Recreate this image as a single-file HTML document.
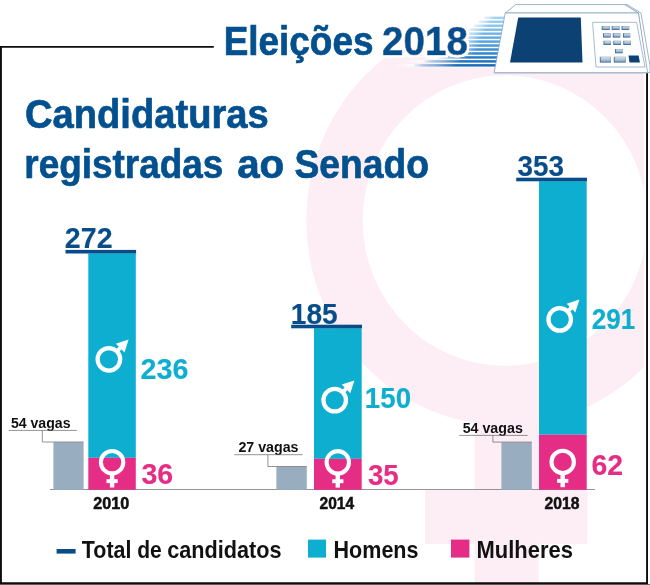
<!DOCTYPE html>
<html lang="pt-BR"><head><meta charset="utf-8"><title>Eleições 2018 - Candidaturas registradas ao Senado</title>
<style>
html,body{margin:0;padding:0;background:#fff;}
svg{display:block;font-family:"Liberation Sans",sans-serif;font-weight:bold;}
</style></head><body>
<svg width="650" height="585" viewBox="0 0 650 585">
<defs>
<clipPath id="frame"><rect x="0" y="0" width="644.3" height="585"/></clipPath>
<linearGradient id="kg" x1="0" y1="0" x2="0" y2="1"><stop offset="0" stop-color="#dbe5ee"/><stop offset="1" stop-color="#86a3c2"/></linearGradient>
<linearGradient id="sp0" x1="0" y1="0" x2="1" y2="0"><stop offset="0" stop-color="#fff" stop-opacity="0"/><stop offset="0.2" stop-color="#fff" stop-opacity="0.9"/><stop offset="0.4" stop-color="#a3d2f0" stop-opacity="0.5"/><stop offset="0.62" stop-color="#a3d2f0" stop-opacity="1"/><stop offset="1" stop-color="#a3d2f0"/></linearGradient>
<linearGradient id="sp1" x1="0" y1="0" x2="1" y2="0"><stop offset="0" stop-color="#fff" stop-opacity="0"/><stop offset="0.2" stop-color="#fff" stop-opacity="0.9"/><stop offset="0.4" stop-color="#98ccee" stop-opacity="0.5"/><stop offset="0.62" stop-color="#98ccee" stop-opacity="1"/><stop offset="1" stop-color="#98ccee"/></linearGradient>
<linearGradient id="sp2" x1="0" y1="0" x2="1" y2="0"><stop offset="0" stop-color="#fff" stop-opacity="0"/><stop offset="0.2" stop-color="#fff" stop-opacity="0.9"/><stop offset="0.4" stop-color="#8cc5ec" stop-opacity="0.5"/><stop offset="0.62" stop-color="#8cc5ec" stop-opacity="1"/><stop offset="1" stop-color="#8cc5ec"/></linearGradient>
<linearGradient id="sp3" x1="0" y1="0" x2="1" y2="0"><stop offset="0" stop-color="#fff" stop-opacity="0"/><stop offset="0.2" stop-color="#fff" stop-opacity="0.9"/><stop offset="0.4" stop-color="#7fbde9" stop-opacity="0.5"/><stop offset="0.62" stop-color="#7fbde9" stop-opacity="1"/><stop offset="1" stop-color="#7fbde9"/></linearGradient>
<linearGradient id="sp4" x1="0" y1="0" x2="1" y2="0"><stop offset="0" stop-color="#fff" stop-opacity="0"/><stop offset="0.2" stop-color="#fff" stop-opacity="0.9"/><stop offset="0.4" stop-color="#71b5e6" stop-opacity="0.5"/><stop offset="0.62" stop-color="#71b5e6" stop-opacity="1"/><stop offset="1" stop-color="#71b5e6"/></linearGradient>
<linearGradient id="sp5" x1="0" y1="0" x2="1" y2="0"><stop offset="0" stop-color="#fff" stop-opacity="0"/><stop offset="0.2" stop-color="#fff" stop-opacity="0.9"/><stop offset="0.4" stop-color="#63ace2" stop-opacity="0.5"/><stop offset="0.62" stop-color="#63ace2" stop-opacity="1"/><stop offset="1" stop-color="#63ace2"/></linearGradient>
<linearGradient id="sp6" x1="0" y1="0" x2="1" y2="0"><stop offset="0" stop-color="#fff" stop-opacity="0"/><stop offset="0.2" stop-color="#fff" stop-opacity="0.9"/><stop offset="0.4" stop-color="#55a3de" stop-opacity="0.5"/><stop offset="0.62" stop-color="#55a3de" stop-opacity="1"/><stop offset="1" stop-color="#55a3de"/></linearGradient>
<linearGradient id="sp7" x1="0" y1="0" x2="1" y2="0"><stop offset="0" stop-color="#fff" stop-opacity="0"/><stop offset="0.2" stop-color="#fff" stop-opacity="0.9"/><stop offset="0.4" stop-color="#479ad9" stop-opacity="0.5"/><stop offset="0.62" stop-color="#479ad9" stop-opacity="1"/><stop offset="1" stop-color="#479ad9"/></linearGradient>
<linearGradient id="sp8" x1="0" y1="0" x2="1" y2="0"><stop offset="0" stop-color="#fff" stop-opacity="0"/><stop offset="0.2" stop-color="#fff" stop-opacity="0.9"/><stop offset="0.4" stop-color="#3a90d3" stop-opacity="0.5"/><stop offset="0.62" stop-color="#3a90d3" stop-opacity="1"/><stop offset="1" stop-color="#3a90d3"/></linearGradient>
<linearGradient id="sp9" x1="0" y1="0" x2="1" y2="0"><stop offset="0" stop-color="#fff" stop-opacity="0"/><stop offset="0.2" stop-color="#fff" stop-opacity="0.9"/><stop offset="0.4" stop-color="#2f86cc" stop-opacity="0.5"/><stop offset="0.62" stop-color="#2f86cc" stop-opacity="1"/><stop offset="1" stop-color="#2f86cc"/></linearGradient>
<linearGradient id="sp10" x1="0" y1="0" x2="1" y2="0"><stop offset="0" stop-color="#fff" stop-opacity="0"/><stop offset="0.2" stop-color="#fff" stop-opacity="0.9"/><stop offset="0.4" stop-color="#277cc5" stop-opacity="0.5"/><stop offset="0.62" stop-color="#277cc5" stop-opacity="1"/><stop offset="1" stop-color="#277cc5"/></linearGradient>
<linearGradient id="sp11" x1="0" y1="0" x2="1" y2="0"><stop offset="0" stop-color="#fff" stop-opacity="0"/><stop offset="0.2" stop-color="#fff" stop-opacity="0.9"/><stop offset="0.4" stop-color="#2073be" stop-opacity="0.5"/><stop offset="0.62" stop-color="#2073be" stop-opacity="1"/><stop offset="1" stop-color="#2073be"/></linearGradient>
<linearGradient id="sp12" x1="0" y1="0" x2="1" y2="0"><stop offset="0" stop-color="#fff" stop-opacity="0"/><stop offset="0.2" stop-color="#fff" stop-opacity="0.9"/><stop offset="0.4" stop-color="#1b6bb7" stop-opacity="0.5"/><stop offset="0.62" stop-color="#1b6bb7" stop-opacity="1"/><stop offset="1" stop-color="#1b6bb7"/></linearGradient>
<filter id="halo" x="-10%" y="-20%" width="120%" height="140%"><feMorphology in="SourceAlpha" operator="dilate" radius="1.6" result="d"/><feGaussianBlur in="d" stdDeviation="0.6" result="b"/><feComponentTransfer in="b" result="t"><feFuncA type="linear" slope="3" intercept="0"/></feComponentTransfer><feFlood flood-color="#fff"/><feComposite in2="t" operator="in" result="h"/><feMerge><feMergeNode in="h"/><feMergeNode in="SourceGraphic"/></feMerge></filter>
<linearGradient id="spbg" x1="0" y1="0" x2="1" y2="0"><stop offset="0" stop-color="#fff" stop-opacity="0"/><stop offset="0.5" stop-color="#fff" stop-opacity="0.9"/><stop offset="1" stop-color="#fff"/></linearGradient>
</defs>
<g clip-path="url(#frame)">
<path fill-rule="evenodd" fill="#fdedf4" d="M306.3 220.7 a198.7 204.5 0 1 0 397.4 0 a198.7 204.5 0 1 0 -397.4 0 Z M362.7 220.6 a142.3 145.3 0 1 0 284.6 0 a142.3 145.3 0 1 0 -284.6 0 Z"/>
<rect x="474.6" y="400" width="64" height="185" fill="#fdedf4"/>
<rect x="425" y="489.8" width="162.5" height="54" fill="#fdedf4"/>
</g>
<rect x="0" y="584.1" width="650" height="0.9" fill="#666"/>
<path d="M213.8 46.9 H0.95 V583.25 H647.05 V72.5" fill="none" stroke="#0d0d0d" stroke-width="1.9"/>
<path d="M400 0 H520 L506 13 L497.5 56.5 H400 Z" fill="#fff"/>
<path d="M486 16.6 H504.6 L495.4 67.4 H412 Z" fill="url(#spbg)"/>
<rect x="478.0" y="16.60" width="26.4" height="2.45" fill="url(#sp0)"/>
<rect x="471.0" y="20.56" width="32.7" height="2.45" fill="url(#sp1)"/>
<rect x="465.0" y="24.52" width="38.1" height="2.45" fill="url(#sp2)"/>
<rect x="459.0" y="28.48" width="43.4" height="2.45" fill="url(#sp3)"/>
<rect x="454.0" y="32.44" width="47.7" height="2.45" fill="url(#sp4)"/>
<rect x="450.0" y="36.40" width="51.0" height="2.45" fill="url(#sp5)"/>
<rect x="447.0" y="40.36" width="53.4" height="2.45" fill="url(#sp6)"/>
<rect x="445.0" y="44.32" width="54.7" height="2.45" fill="url(#sp7)"/>
<rect x="442.0" y="48.28" width="57.0" height="2.45" fill="url(#sp8)"/>
<rect x="435.0" y="52.24" width="63.3" height="2.45" fill="url(#sp9)"/>
<rect x="421.0" y="56.20" width="76.7" height="2.45" fill="url(#sp10)"/>
<rect x="404.0" y="60.16" width="93.0" height="2.45" fill="url(#sp11)"/>
<rect x="392.0" y="64.12" width="104.3" height="2.45" fill="url(#sp12)"/>
<text transform="translate(223.66 55.15) scale(0.9070 1)" font-size="40.70" fill="#03508f" stroke="#03508f" stroke-width="0.7" stroke-linejoin="round" >Eleições</text>
<text transform="translate(382.00 55.15) scale(0.9659 1)" font-size="39.97" fill="#03508f" stroke="#03508f" stroke-width="0.7" stroke-linejoin="round" filter="url(#halo)">2018</text>
<text transform="translate(24.97 127.85) scale(0.9375 1)" font-size="40.70" fill="#03508f" stroke="#03508f" stroke-width="0.7" stroke-linejoin="round" >Candidaturas</text>
<text transform="translate(24.35 178.35) scale(0.9071 1)" font-size="40.70" fill="#03508f" stroke="#03508f" stroke-width="0.7" stroke-linejoin="round" >registradas</text>
<text transform="translate(237.14 178.35) scale(0.9918 1)" font-size="40.70" fill="#03508f" stroke="#03508f" stroke-width="0.7" stroke-linejoin="round" >ao</text>
<text transform="translate(294.53 178.35) scale(0.9142 1)" font-size="40.70" fill="#03508f" stroke="#03508f" stroke-width="0.7" stroke-linejoin="round" >Senado</text>
<g stroke="#7f9dbd" stroke-width="0.75" fill="#fff" stroke-linejoin="round">
<path d="M638.4 13 L624.7 4.55 L627 4.55 L641 13 L650 66 L650 72.6 L646.8 72.6 Z"/>
<path d="M515.8 4.55 H624.7 L638.4 13 H505.2 Z"/>
<path d="M505.2 13 H638.4 L647.6 72.6 H494.2 Z"/>
<path d="M592.6 22.3 H636.6 L645 67 H596 Z" stroke-width="0.7"/>
</g>
<path d="M494.6 72.7 H647.4" stroke="#a9bbd0" stroke-width="1.4" fill="none"/>
<path d="M518.2 17.6 H580.8 L582.5 62.4 H510 Z" fill="#0c4273"/>
<rect x="601.7" y="26.0" width="8.0" height="4.0" fill="#446f9d"/>
<rect x="602.6" y="26.3" width="6.9" height="2.8" fill="url(#kg)"/>
<rect x="611.7" y="26.0" width="7.8" height="4.0" fill="#446f9d"/>
<rect x="612.6" y="26.3" width="6.7" height="2.8" fill="url(#kg)"/>
<rect x="621.6" y="26.0" width="7.6" height="4.0" fill="#446f9d"/>
<rect x="622.5" y="26.3" width="6.5" height="2.8" fill="url(#kg)"/>
<rect x="603.0" y="33.2" width="7.6" height="4.4" fill="#446f9d"/>
<rect x="603.9" y="33.5" width="6.5" height="3.2" fill="url(#kg)"/>
<rect x="612.8" y="33.2" width="7.5" height="4.4" fill="#446f9d"/>
<rect x="613.7" y="33.5" width="6.4" height="3.2" fill="url(#kg)"/>
<rect x="623.0" y="33.2" width="7.2" height="4.4" fill="#446f9d"/>
<rect x="623.9" y="33.5" width="6.1" height="3.2" fill="url(#kg)"/>
<rect x="603.5" y="40.8" width="7.5" height="4.2" fill="#446f9d"/>
<rect x="604.4" y="41.1" width="6.4" height="3.0" fill="url(#kg)"/>
<rect x="613.3" y="40.8" width="7.6" height="4.2" fill="#446f9d"/>
<rect x="614.2" y="41.1" width="6.5" height="3.0" fill="url(#kg)"/>
<rect x="623.3" y="40.8" width="7.6" height="4.2" fill="#446f9d"/>
<rect x="624.2" y="41.1" width="6.5" height="3.0" fill="url(#kg)"/>
<rect x="615.0" y="49.0" width="7.6" height="4.3" fill="#446f9d"/>
<rect x="615.9" y="49.3" width="6.5" height="3.1" fill="url(#kg)"/>
<rect x="599.8" y="56.8" width="11.2" height="5.8" fill="#446f9d"/>
<rect x="600.7" y="57.1" width="10.1" height="4.6" fill="url(#kg)"/>
<rect x="613.8" y="56.8" width="12.0" height="5.8" fill="#446f9d"/>
<rect x="614.7" y="57.1" width="10.9" height="4.6" fill="url(#kg)"/>
<path d="M628.5 55.4 H638.6 L639.9 62.6 H629.5 Z" fill="#0c4273"/>
<rect x="50" y="489" width="545" height="0.9" fill="#8a8a8a"/>
<rect x="53.4" y="442.2" width="30.2" height="47.6" fill="#98aec0"/>
<rect x="88.3" y="253.4" width="47.5" height="204.4" fill="#0daed0"/>
<rect x="88.3" y="457.8" width="47.5" height="32.0" fill="#e62d86"/>
<rect x="65.5" y="249.9" width="70.6" height="3.6" fill="#084d89"/>
<text transform="translate(64.86 247.94) scale(0.9900 1)" font-size="28.91" fill="#084d89" stroke="#084d89" stroke-width="0.12" stroke-linejoin="round" >272</text>
<text transform="translate(140.55 378.74) scale(0.9934 1)" font-size="28.91" fill="#0daed0" stroke="#0daed0" stroke-width="0.12" stroke-linejoin="round" >236</text>
<text transform="translate(141.42 483.74) scale(0.9885 1)" font-size="28.91" fill="#e62d86" stroke="#e62d86" stroke-width="0.12" stroke-linejoin="round" >36</text>
<text transform="translate(10.88 427.70) scale(0.9482 1)" font-size="14.90" fill="#111" >54 vagas</text>
<path d="M8.7 430.4 H77 M42.3 430.4 V442.0 H83.6" fill="none" stroke="#666" stroke-width="0.7"/>
<text transform="translate(93.18 508.65) scale(0.9836 1)" font-size="16.48" fill="#111" stroke="#111" stroke-width="0.5" stroke-linejoin="round" >2010</text>
<g transform="translate(108.9 359.3)"><circle r="11.25" fill="none" stroke="#fff" stroke-width="4.3"/><path d="M7.6 -7.6 L13 -13" stroke="#fff" stroke-width="3.8" fill="none"/><path d="M19.7 -19.8 L7 -15.6 L15.6 -6.9 Z" fill="#fff"/></g>
<g transform="translate(112.1 462.2)"><circle r="11.2" fill="none" stroke="#fff" stroke-width="4.1"/><rect x="-2.2" y="12" width="4.4" height="13.3" fill="#fff"/><rect x="-5.6" y="17" width="11.2" height="3.9" fill="#fff"/></g>
<rect x="276.4" y="466.7" width="30.4" height="23.1" fill="#98aec0"/>
<rect x="314" y="328.2" width="47.7" height="130.6" fill="#0daed0"/>
<rect x="314" y="458.8" width="47.7" height="31.0" fill="#e62d86"/>
<rect x="291.2" y="324.7" width="70.8" height="3.6" fill="#084d89"/>
<text transform="translate(290.80 323.74) scale(0.9731 1)" font-size="28.91" fill="#084d89" stroke="#084d89" stroke-width="0.12" stroke-linejoin="round" >185</text>
<text transform="translate(364.83 407.94) scale(0.9588 1)" font-size="28.91" fill="#0daed0" stroke="#0daed0" stroke-width="0.12" stroke-linejoin="round" >150</text>
<text transform="translate(367.94 484.94) scale(0.9587 1)" font-size="28.91" fill="#e62d86" stroke="#e62d86" stroke-width="0.12" stroke-linejoin="round" >35</text>
<text transform="translate(238.40 451.70) scale(0.9558 1)" font-size="14.90" fill="#111" >27 vagas</text>
<path d="M234.3 454.7 H302.6 M267.9 454.7 V466.5 H306.8" fill="none" stroke="#666" stroke-width="0.7"/>
<text transform="translate(319.51 508.65) scale(0.9428 1)" font-size="16.48" fill="#111" stroke="#111" stroke-width="0.5" stroke-linejoin="round" >2014</text>
<g transform="translate(334.7 400.2)"><circle r="11.25" fill="none" stroke="#fff" stroke-width="4.3"/><path d="M7.6 -7.6 L13 -13" stroke="#fff" stroke-width="3.8" fill="none"/><path d="M19.7 -19.8 L7 -15.6 L15.6 -6.9 Z" fill="#fff"/></g>
<g transform="translate(337.8 462.3)"><circle r="11.2" fill="none" stroke="#fff" stroke-width="4.1"/><rect x="-2.2" y="12" width="4.4" height="13.3" fill="#fff"/><rect x="-5.6" y="17" width="11.2" height="3.9" fill="#fff"/></g>
<rect x="501.4" y="442.3" width="30.4" height="47.5" fill="#98aec0"/>
<rect x="539" y="181.2" width="47.7" height="253.5" fill="#0daed0"/>
<rect x="539" y="434.7" width="47.7" height="55.1" fill="#e62d86"/>
<rect x="516.2" y="177.7" width="70.8" height="3.6" fill="#084d89"/>
<text transform="translate(517.43 175.94) scale(0.9642 1)" font-size="28.91" fill="#084d89" stroke="#084d89" stroke-width="0.12" stroke-linejoin="round" >353</text>
<text transform="translate(591.65 328.54) scale(0.9025 1)" font-size="28.91" fill="#0daed0" stroke="#0daed0" stroke-width="0.12" stroke-linejoin="round" >291</text>
<text transform="translate(591.49 474.54) scale(0.9842 1)" font-size="28.91" fill="#e62d86" stroke="#e62d86" stroke-width="0.12" stroke-linejoin="round" >62</text>
<text transform="translate(462.67 432.70) scale(0.9563 1)" font-size="14.90" fill="#111" >54 vagas</text>
<path d="M459.3 435.4 H527.6 M492.9 435.4 V442.1 H531.8" fill="none" stroke="#666" stroke-width="0.7"/>
<text transform="translate(544.50 508.65) scale(0.9537 1)" font-size="16.48" fill="#111" stroke="#111" stroke-width="0.5" stroke-linejoin="round" >2018</text>
<g transform="translate(559.7 319.4)"><circle r="11.25" fill="none" stroke="#fff" stroke-width="4.3"/><path d="M7.6 -7.6 L13 -13" stroke="#fff" stroke-width="3.8" fill="none"/><path d="M19.7 -19.8 L7 -15.6 L15.6 -6.9 Z" fill="#fff"/></g>
<g transform="translate(562.7 461.9)"><circle r="11.2" fill="none" stroke="#fff" stroke-width="4.1"/><rect x="-2.2" y="12" width="4.4" height="13.3" fill="#fff"/><rect x="-5.6" y="17" width="11.2" height="3.9" fill="#fff"/></g>
<rect x="56.6" y="549" width="19" height="4.6" fill="#084d89"/>
<text transform="translate(81.79 558.00) scale(0.9235 1)" font-size="23.26" fill="#111" >Total</text>
<text transform="translate(137.16 558.00) scale(0.9053 1)" font-size="23.26" fill="#111" >de</text>
<text transform="translate(167.13 558.00) scale(0.9316 1)" font-size="23.26" fill="#111" >candidatos</text>
<rect x="308" y="539.6" width="18" height="18" fill="#0daed0"/>
<text transform="translate(333.55 558.00) scale(0.9256 1)" font-size="23.26" fill="#111" >Homens</text>
<rect x="451" y="539.6" width="18.4" height="18" fill="#e62d86"/>
<text transform="translate(476.52 558.00) scale(0.9438 1)" font-size="23.26" fill="#111" >Mulheres</text>
</svg>
</body></html>
